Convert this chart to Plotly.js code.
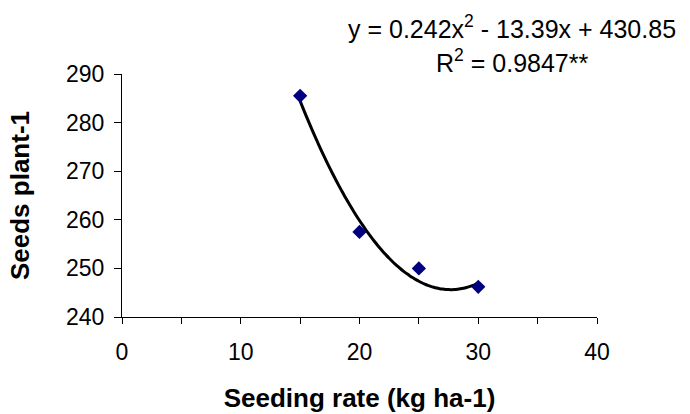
<!DOCTYPE html>
<html>
<head>
<meta charset="utf-8">
<script src="https://cdn.plot.ly/plotly-3.0.1.min.js"></script>
<style>
  html, body { margin: 0; padding: 0; background: #fff; }
  #chart { width: 690px; height: 414px; }
</style>
</head>
<body>
<div id="chart"></div>
<script>
// Observed seeds per plant at each seeding rate
var seedingRate = [15, 20, 25, 30];
var seedsPerPlant = [285.5, 257.5, 250.0, 246.2];

// Quadratic trendline coefficients (a x^2 + b x + c) and fit quality
var trendCoef = [0.242, -13.39, 430.85];
var trendR2 = "0.9847**";

// Axis tick positions (labelled majors; unlabelled minors every 5 on x)
var xTickVals = [0, 10, 20, 30, 40];
var yTickVals = [240, 250, 260, 270, 280, 290];

// Trendline evaluated over the observed range
var trendX = [];
var trendY = [];
for (var x = seedingRate[0]; x <= seedingRate[seedingRate.length - 1] + 1e-9; x += 0.25) {
  trendX.push(x);
  trendY.push(trendCoef[0] * x * x + trendCoef[1] * x + trendCoef[2]);
}

var traces = [
  {
    x: trendX, y: trendY, type: "scatter", mode: "lines",
    line: { color: "#000000", width: 3, shape: "spline" },
    hoverinfo: "skip", showlegend: false
  },
  {
    x: seedingRate, y: seedsPerPlant, type: "scatter", mode: "markers",
    marker: { symbol: "diamond", size: 11, color: "#000080" },
    showlegend: false
  }
];

var family = "Liberation Sans, Arial, sans-serif";
var tickFont = { family: family, size: 23, color: "#000" };
var noteFont = { family: family, size: 25, color: "#000" };
var titleFont = { family: family, size: 26, color: "#000" };

var layout = {
  width: 690, height: 414,
  margin: { l: 122, r: 93, t: 74, b: 97, pad: 0 },
  paper_bgcolor: "#fff", plot_bgcolor: "#fff",
  font: tickFont,
  xaxis: {
    range: [0, 40], tickmode: "array", tickvals: xTickVals,
    ticks: "outside", ticklen: 6, tickcolor: "#000", tickwidth: 1,
    minor: { dtick: 5, tick0: 0, ticks: "outside", ticklen: 6, tickcolor: "#000", tickwidth: 1, showgrid: false },
    ticklabelstandoff: 8,
    showline: true, linecolor: "#000", linewidth: 1,
    showgrid: false, zeroline: false, tickfont: tickFont,
    title: { text: "<b>Seeding rate (kg ha-1)</b>", font: titleFont, standoff: 25 }
  },
  yaxis: {
    range: [240, 290], tickmode: "array", tickvals: yTickVals,
    ticks: "outside", ticklen: 7, tickcolor: "#000", tickwidth: 1,
    ticklabelstandoff: 5,
    showline: true, linecolor: "#000", linewidth: 1,
    showgrid: false, zeroline: false, tickfont: tickFont,
    title: { text: "<b>Seeds plant-1</b>", font: titleFont, standoff: 28 }
  },
  annotations: [
    {
      xref: "paper", yref: "paper", x: 0.821, y: 1.195, xanchor: "center", yanchor: "middle",
      text: "y = " + trendCoef[0] + "x<sup>2</sup> - " + Math.abs(trendCoef[1]) + "x + " + trendCoef[2],
      showarrow: false, font: noteFont
    },
    {
      xref: "paper", yref: "paper", x: 0.821, y: 1.055, xanchor: "center", yanchor: "middle",
      text: "R<sup>2</sup> = " + trendR2,
      showarrow: false, font: noteFont
    }
  ]
};

Plotly.newPlot("chart", traces, layout, { staticPlot: true, displayModeBar: false });
</script>
</body>
</html>
